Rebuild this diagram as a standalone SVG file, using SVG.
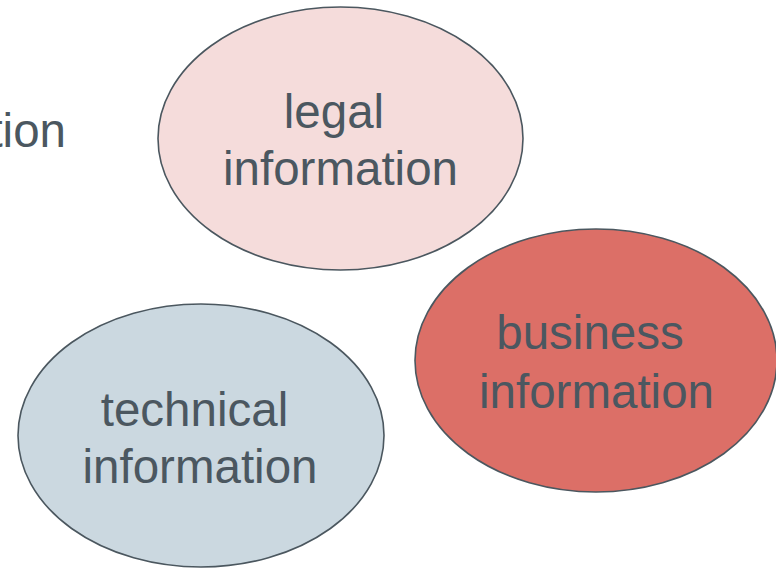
<svg xmlns="http://www.w3.org/2000/svg" width="776" height="568" viewBox="0 0 776 568">
<style>
.node{stroke:#4b575f;stroke-width:1.6}
.t{font-family:"Liberation Sans",Arial,sans-serif;font-size:47.5px;fill:#4b5760;text-anchor:middle}
</style>
<rect width="776" height="568" fill="#ffffff"/>
<g id="fragment"><text class="t" x="66" y="147" style="text-anchor:end">tion</text></g>
<g id="legal">
<ellipse class="node" cx="340.5" cy="138.5" rx="182.5" ry="131.5" fill="#f5dcdb"/>
<text class="t" x="334" y="128">legal</text>
<text class="t" x="340.5" y="185">information</text>
</g>
<g id="business">
<ellipse class="node" cx="596" cy="360.5" rx="181" ry="131.5" fill="#dc6f67"/>
<text class="t" x="590" y="349">business</text>
<text class="t" x="596.5" y="408">information</text>
</g>
<g id="technical">
<ellipse class="node" cx="201" cy="435.5" rx="183" ry="131.5" fill="#cbd8e0"/>
<text class="t" x="194.5" y="426">technical</text>
<text class="t" x="200" y="483">information</text>
</g>
<g id="connectors"/>
</svg>
